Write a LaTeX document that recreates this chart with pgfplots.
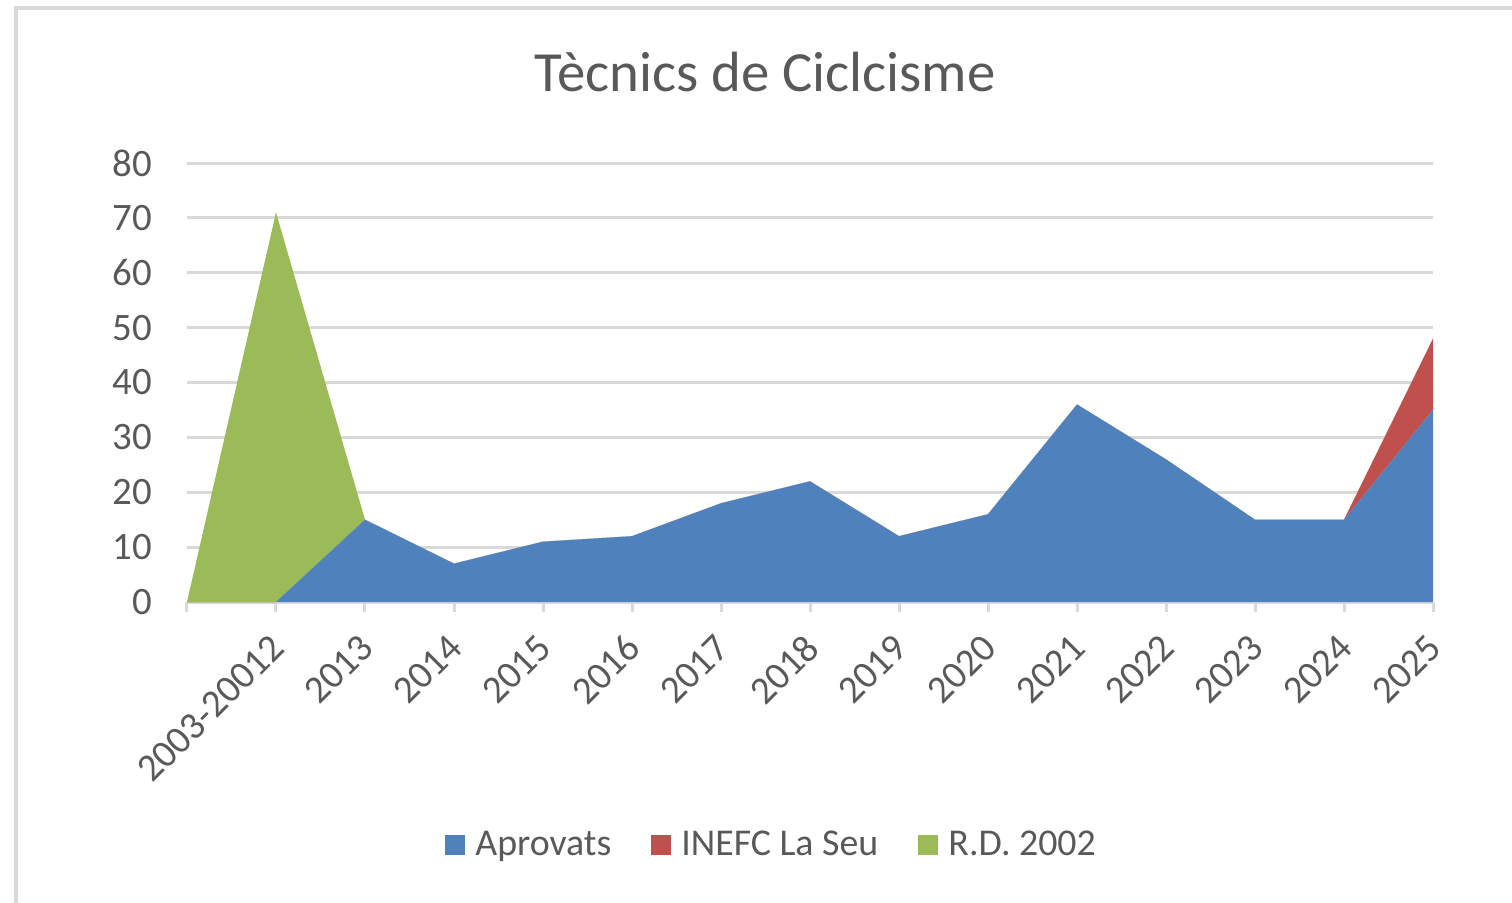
\documentclass[border=0pt]{standalone}
\usepackage{fontspec}
\setmainfont{Carlito}
\usepackage{pgfplots}
\pgfplotsset{compat=1.18}
\usepackage{pgfplotstable}

\definecolor{aprov}{HTML}{4F81BD}
\definecolor{inefc}{HTML}{C0504D}
\definecolor{rdcol}{HTML}{9BBB59}
\definecolor{gridgray}{HTML}{D9D9D9}
\definecolor{textgray}{HTML}{595959}

% pos 0 is an unlabelled category, then 2003-20012, 2013 ... 2025
\pgfplotstableread{
pos apr inefc rd
0   0   0     0
1   0   0     71
2   15  0     0
3   7   0     0
4   11  0     0
5   12  0     0
6   18  0     0
7   22  0     0
8   12  0     0
9   16  0     0
10  36  0     0
11  26  0     0
12  15  0     0
13  15  0     0
14  35  13    0
}\dades

\begin{document}
\begin{tikzpicture}
\begin{axis}[
    at={(0,0)}, anchor=south west,
    scale only axis, width=623bp, height=219.5bp,
    xmin=0, xmax=14, ymin=0, ymax=80,
    stack plots=y, area style, axis on top=false,
    xtick={0,...,14},
    xticklabels={{},2003-20012,2013,2014,2015,2016,2017,2018,2019,2020,2021,2022,2023,2024,2025},
    ytick={0,10,...,80},
    ymajorgrids,
    grid style={line width=1.5bp, color=gridgray},
    axis lines*=left,
    y axis line style={draw=none},
    x axis line style={gridgray, line width=1.5bp},
    ytick style={draw=none},
    xtick style={gridgray, line width=1.5bp},
    tick align=outside, major tick length=5bp,
    tick label style={font=\fontsize{19.5}{21}\selectfont, text=textgray},
    /pgf/number format/assume math mode=true,
    yticklabel style={anchor=east, xshift=-9bp},
    xticklabel style={rotate=45, anchor=north east, inner sep=1bp, xshift=-8.75bp, yshift=-3.25bp},
    legend columns=-1,
    legend style={at={(0.470,-0.553)}, anchor=center, draw=none,
        font=\fontsize{19}{21}\selectfont, text=textgray,
        /tikz/every odd column/.append style={column sep=3bp},
        /tikz/every even column/.append style={column sep=18bp}},
    legend image code/.code={\fill[#1] (0bp,-5bp) rectangle (10bp,5bp);},
]
\addplot[fill=aprov, draw=none] table[x=pos, y=apr] {\dades} \closedcycle;
\addlegendentry{Aprovats}
\addplot[fill=inefc, draw=none] table[x=pos, y=inefc] {\dades} \closedcycle;
\addlegendentry{INEFC La Seu}
\addplot[fill=rdcol, draw=none] table[x=pos, y=rd] {\dades} \closedcycle;
\addlegendentry{R.D. 2002}
\end{axis}
\node[anchor=base, font=\fontsize{28.5}{31}\selectfont, text=textgray] at (289bp,255bp) {Tècnics de Ciclcisme};
\draw[gridgray, line width=2bp] (-85.5bp,-170bp) -- (-85.5bp,297bp) -- (680bp,297bp);
\pgfresetboundingbox
\useasboundingbox (-93.5bp,-150.5bp) rectangle (662.5bp,301bp);
\end{tikzpicture}
\end{document}
